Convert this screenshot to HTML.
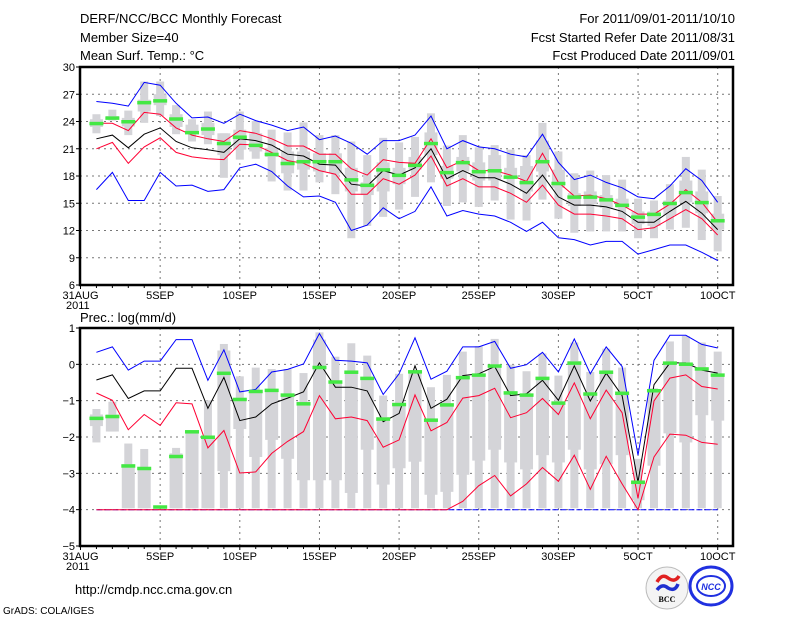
<!DOCTYPE html>
<html><head><meta charset="utf-8"><style>
body{margin:0;background:#fff;width:800px;height:618px;overflow:hidden}
svg{display:block;font-family:"Liberation Sans",sans-serif}
</style></head><body>
<svg id="chart" width="800" height="618" xmlns="http://www.w3.org/2000/svg">
<g font-size="13" fill="#000">
<text x="80" y="23">DERF/NCC/BCC Monthly Forecast</text>
<text x="80" y="42">Member Size=40</text>
<text x="80" y="60">Mean Surf. Temp.: °C</text>
<text x="735" y="23" text-anchor="end">For 2011/09/01-2011/10/10</text>
<text x="735" y="42" text-anchor="end">Fcst Started Refer Date 2011/08/31</text>
<text x="735" y="60" text-anchor="end">Fcst Produced Date 2011/09/01</text>
<text x="80" y="322">Prec.: log(mm/d)</text>
<text x="75" y="594">http://cmdp.ncc.cma.gov.cn</text>
<text x="3" y="614" font-size="10">GrADS: COLA/IGES</text>
</g>
<g>
<circle cx="667" cy="588" r="21" fill="#f4f4f4" stroke="#bbb"/>
<path d="M657 582 q5 -9 11 -4 q7 5 11 -2" stroke="#e02020" stroke-width="3.5" fill="none"/>
<path d="M657 590 q5 -7 11 -2 q7 4 10 -4" stroke="#2030d0" stroke-width="3.5" fill="none"/>
<text x="667" y="602" font-size="8" text-anchor="middle" font-family="Liberation Serif,serif" font-weight="bold">BCC</text>
</g>
<g>
<ellipse cx="711" cy="586" rx="21" ry="19" fill="none" stroke="#2030e0" stroke-width="3"/>
<ellipse cx="711" cy="586" rx="14" ry="10" fill="none" stroke="#2030e0" stroke-width="2"/>
<text x="711" y="590" font-size="9" text-anchor="middle" fill="#2030e0" font-weight="bold" font-style="italic">NCC</text>
</g>
</svg>
<script>
// ---- Top panel data (temperature °C), days Sep1..Oct10 ----
const tMax=[26.2,26.0,25.7,28.3,28.0,26.0,24.4,24.5,23.8,24.8,24.1,23.6,23.0,23.4,22.0,22.4,21.6,20.4,21.9,21.9,22.5,24.6,21.0,21.9,21.2,21.0,20.4,20.1,22.6,19.5,17.6,18.1,17.3,16.7,15.7,15.5,16.9,18.8,17.5,15.1];
const tUp=[23.8,23.8,23.0,25.0,24.8,23.3,22.5,22.1,21.8,23.0,22.7,22.1,21.3,21.3,20.4,20.4,18.8,18.1,19.8,19.5,19.4,22.1,18.9,19.7,18.6,18.6,18.1,17.4,20.5,17.3,15.8,15.9,15.5,14.8,13.8,13.8,14.9,16.5,15.1,12.9];
const tMean=[22.1,22.5,21.1,22.6,23.3,21.8,21.1,20.9,20.6,22.1,21.9,21.4,20.4,20.2,19.3,19.2,17.1,16.9,18.6,18.1,18.9,21.0,17.7,18.6,17.8,17.8,17.1,16.1,18.1,15.7,14.8,14.8,14.6,14.1,12.9,12.9,14.1,15.2,13.9,12.1];
const tLo=[21.0,21.7,19.4,21.2,22.2,20.6,20.1,19.9,19.8,21.5,21.4,20.6,19.7,19.4,18.6,18.2,16.0,16.0,17.7,17.1,18.1,20.2,16.9,17.7,16.8,16.8,16.1,15.1,17.0,14.8,13.8,13.8,13.6,13.3,12.1,12.3,13.3,14.3,13.3,11.5];
const tMin=[16.5,18.4,15.3,15.3,18.4,16.9,17.0,16.3,16.5,18.9,19.3,18.5,16.9,15.7,15.8,15.1,12.0,12.6,14.5,13.3,14.1,16.8,13.6,14.2,13.8,13.6,12.9,11.9,12.9,11.2,11.0,10.4,10.8,10.8,9.4,9.9,10.4,10.4,9.6,8.7];
const tObs=[23.8,24.4,24.0,26.1,26.3,24.3,22.8,23.2,21.6,22.3,21.4,20.4,19.4,19.6,19.6,19.6,17.6,17.0,18.7,18.1,19.2,21.6,18.4,19.5,18.5,18.6,17.9,17.3,19.6,17.2,15.7,15.7,15.4,14.8,13.5,13.8,15.0,16.2,15.1,13.1];
const tBarHi=[24.8,25.3,25.2,28.4,28.4,25.8,24.25,25.1,22.7,25.1,24.05,23.1,22.8,23.9,22.5,22.5,21.8,20.3,22.2,21.7,22.3,24.9,21.35,22.5,21.15,21.4,20.9,20.3,23.85,20.7,18.3,18.6,18.1,17.6,15.5,15.3,17.1,20.1,18.7,15.8];
const tBarLo=[22.7,24.1,22.5,23.85,24.6,22.6,21.8,21.5,17.8,19.8,19.9,17.4,16.4,16.4,17.3,16.0,11.15,12.5,13.5,14.3,15.7,17.3,14.7,15.1,14.6,15.3,13.2,13.1,15.4,13.3,11.75,11.9,11.9,11.9,11.15,11.15,12.1,12.3,10.95,9.7];
const tBoxHi=[24.25,24.6,24.4,26.4,27.0,24.8,23.65,23.85,22.7,23.1,22.7,21.1,20.7,20.7,20.5,20.5,18.9,17.3,19.5,18.9,20.1,22.8,19.1,20.1,19.5,20.3,18.9,19.1,21.9,18.7,16.1,16.3,15.9,15.5,14.1,14.1,15.3,17.5,16.3,13.85];
const tBoxLo=[23.4,24.25,23.45,25.1,25.8,23.4,22.7,22.5,20.3,20.9,20.7,20.1,18.3,18.7,18.5,18.3,16.3,15.9,16.3,17.1,18.7,20.3,17.7,18.5,17.5,17.5,17.7,16.3,18.5,16.7,14.7,14.9,14.5,14.5,12.7,12.5,13.7,15.1,13.9,12.1];
const tTicks=[6,9,12,15,18,21,24,27,30];
// ---- Bottom panel data (log precip) ----
const pMax=[0.33,0.48,-0.16,0.09,0.09,0.68,0.68,-0.44,0.40,-0.76,-0.69,-0.21,-0.14,0.01,0.85,0.11,0.09,0.04,-0.83,-0.26,0.73,-0.41,-0.19,0.48,0.48,0.63,-0.11,-0.01,0.33,-0.21,0.70,-0.26,0.48,-0.06,-2.50,0.11,0.80,0.80,0.55,0.45];
const pMean=[-0.43,-0.29,-0.94,-0.73,-0.73,-0.11,-0.11,-1.21,-0.36,-1.55,-1.45,-1.09,-0.93,-0.76,0.04,-0.63,-0.63,-0.73,-1.58,-1.35,-0.04,-1.21,-0.96,-0.31,-0.26,-0.06,-0.86,-0.81,-0.44,-0.99,-0.04,-1.01,-0.24,-0.86,-3.24,-0.56,0.04,0.04,-0.16,-0.24];
const pUp=[-0.79,-0.99,-1.80,-1.38,-1.68,-1.06,-1.09,-2.30,-1.82,-2.99,-2.96,-2.45,-2.12,-1.85,-0.86,-1.50,-1.45,-1.55,-2.28,-2.08,-0.84,-1.83,-1.60,-0.93,-0.86,-0.66,-1.47,-1.33,-0.94,-1.38,-0.51,-1.50,-0.71,-1.33,-3.69,-1.01,-0.38,-0.29,-0.61,-0.68];
const pLo=[-4,-4,-4,-4,-4,-4,-4,-4,-4,-4,-4,-4,-4,-4,-4,-4,-4,-4,-4,-4,-4,-4,-4,-3.77,-3.34,-3.06,-3.62,-3.29,-2.84,-3.22,-2.50,-3.44,-2.53,-3.29,-4,-2.55,-1.92,-1.95,-2.15,-2.20];
const pMin=[-4,-4,-4,-4,-4,-4,-4,-4,-4,-4,-4,-4,-4,-4,-4,-4,-4,-4,-4,-4,-4,-4,-4,-4,-4,-4,-4,-4,-4,-4,-4,-4,-4,-4,-4,-4,-4,-4,-4,-4];
const pObs=[-1.48,-1.43,-2.79,-2.86,-3.92,-2.53,-1.85,-2.0,-0.24,-0.96,-0.74,-0.71,-0.84,-1.08,-0.08,-0.48,-0.21,-0.38,-1.50,-1.10,-0.20,-1.53,-1.11,-0.36,-0.29,-0.04,-0.78,-0.84,-0.38,-1.06,0.04,-0.81,-0.21,-0.79,-3.24,-0.72,0.04,0.01,-0.12,-0.29];
const pBarHi=[-1.23,-1.03,-2.18,-2.33,-3.9,-2.30,-1.85,-0.99,0.56,-0.33,-0.09,-0.13,-0.13,-0.24,0.88,0.21,0.58,0.24,-0.86,-0.26,-0.16,-0.63,-0.29,0.35,0.50,0.70,-0.01,-0.19,0.30,-0.31,0.60,-0.21,0.43,-0.09,-2.60,-0.66,0.63,0.78,0.60,0.35];
const pBarLo=[-2.15,-1.85,-3.96,-3.96,-3.96,-3.96,-3.96,-3.96,-3.96,-3.96,-3.96,-3.96,-3.96,-3.96,-3.96,-3.96,-3.96,-3.96,-3.96,-3.96,-3.96,-3.96,-3.96,-3.96,-3.96,-3.96,-3.96,-3.96,-3.96,-3.96,-3.96,-3.96,-3.96,-3.96,-3.96,-3.96,-3.96,-3.96,-3.96,-3.96];
const pBoxHi=[-1.38,-1.38,-2.75,-2.84,-3.9,-2.45,-1.85,-2.0,0.38,-0.96,-0.73,-0.71,-0.81,-1.03,0.68,-0.46,-0.21,-0.36,-1.45,-1.06,-0.16,-1.50,-1.11,-0.36,-0.26,-0.01,-0.76,-0.81,-0.36,-1.06,0.09,-0.81,-0.21,-0.81,-3.19,-0.69,0.04,0.04,-0.11,-0.26];
const pBoxLo=[-1.70,-1.85,-3.96,-3.96,-3.96,-3.96,-3.96,-3.96,-2.94,-1.78,-2.55,-2.08,-2.60,-3.19,-3.19,-3.19,-3.54,-2.35,-3.31,-2.86,-2.68,-3.59,-3.51,-3.04,-2.65,-2.35,-2.70,-2.89,-2.50,-2.70,-2.35,-2.89,-2.75,-2.50,-3.74,-2.79,-1.90,-2.15,-1.40,-1.55];
const pTicks=[-5,-4,-3,-2,-1,0,1];
const dateLabels=["31AUG","5SEP","10SEP","15SEP","20SEP","25SEP","30SEP","5OCT","10OCT"];

const NS="http://www.w3.org/2000/svg";
const svg=document.getElementById('chart');
const X0=80.5, DX=15.93, XL=80, XR=733;
const xs=d=>X0+d*DX;
function mk(tag,attrs,parent){const e=document.createElementNS(NS,tag);for(const k in attrs)e.setAttribute(k,attrs[k]);(parent||svg).appendChild(e);return e;}

function panel(name,top,bot,vmin,vmax,ticks,series){
  const ys=v=>bot-(v-vmin)*(bot-top)/(vmax-vmin);
  const g=mk('g',{});
  
  
  ticks.forEach(t=>{ if(t===vmin) return;
    const l=mk('line',{x1:XL,x2:XR,y1:ys(t),y2:ys(t),stroke:'#777','stroke-dasharray':'2,4','stroke-width':1},g);
    
    
  });
  for(let i=1;i<dateLabels.length;i++){
    const l=mk('line',{x1:xs(i*5),x2:xs(i*5),y1:top,y2:bot,stroke:'#777','stroke-dasharray':'2,4','stroke-width':1},g);
    
    
  }
  for(let i=0;i<40;i++){
    const x=xs(i+1);
    const b=mk('rect',{x:x-4,width:8,y:ys(series.barHi[i]),height:Math.max(1,ys(series.barLo[i])-ys(series.barHi[i])),fill:'#d4d4d8'},g);
    
    
    const bx=mk('rect',{x:x-6.5,width:13,y:ys(series.boxHi[i]),height:Math.max(1,ys(series.boxLo[i])-ys(series.boxHi[i])),fill:'#d4d4d8'},g);
    
    
  }
  series.lines.forEach(s=>{
    const pts=s.v.map((v,i)=>xs(i+1).toFixed(1)+','+ys(v).toFixed(1)).join(' ');
    const p=mk('polyline',{points:pts,fill:'none',stroke:s.c,'stroke-width':1,'stroke-dasharray':s.dash||'none'},g);
    
    
  });
  series.obs.forEach((v,i)=>{
    const m=mk('rect',{x:xs(i+1)-7,width:14,y:ys(v)-1.5,height:3.5,fill:'#44e844'},g);
    
    
  });
  const f=mk('rect',{x:XL,y:top,width:XR-XL,height:bot-top,fill:'none',stroke:'#000','stroke-width':2.5},g);
  
  
  ticks.forEach(t=>{
    mk('line',{x1:XL-4,x2:XL,y1:ys(t),y2:ys(t),stroke:'#000'},g);
    const tx=mk('text',{x:XL-5,y:ys(t)+4,'font-size':11,'text-anchor':'end'},g);
    tx.textContent=String(t).replace('-','\u2212');
    
    
  });
  for(let d=0;d<=40;d++){
    mk('line',{x1:xs(d),x2:xs(d),y1:bot,y2:bot+(d%5===0?4:3),stroke:'#000'},g);
  }
  dateLabels.forEach((lab,i)=>{
    const tx=mk('text',{x:xs(i*5),y:bot+14,'font-size':11,'text-anchor':'middle'},g);
    tx.textContent=lab;
    
    
  });
  const yr=mk('text',{x:66,y:bot+24,'font-size':11},g);
  yr.textContent='2011';
  
  
}

panel('temperature',67,285,6,30,tTicks,{barHi:tBarHi,barLo:tBarLo,boxHi:tBoxHi,boxLo:tBoxLo,obs:tObs,
  lines:[{v:tMax,c:'#0000ff',n:'temp-max-line'},{v:tMin,c:'#0000ff',n:'temp-min-line'},{v:tUp,c:'#ff0033',n:'temp-upper-line'},{v:tLo,c:'#ff0033',n:'temp-lower-line'},{v:tMean,c:'#000',n:'temp-mean-line'}]});
panel('precip',328,546,-5,1,pTicks,{barHi:pBarHi,barLo:pBarLo,boxHi:pBoxHi,boxLo:pBoxLo,obs:pObs,
  lines:[{v:pMin,c:'#0000ff',n:'precip-min-line',dash:'6,2'},{v:pMax,c:'#0000ff',n:'precip-max-line'},{v:pLo,c:'#ff0033',n:'precip-lower-line'},{v:pUp,c:'#ff0033',n:'precip-upper-line'},{v:pMean,c:'#000',n:'precip-mean-line'}]});
</script>
</body></html>
